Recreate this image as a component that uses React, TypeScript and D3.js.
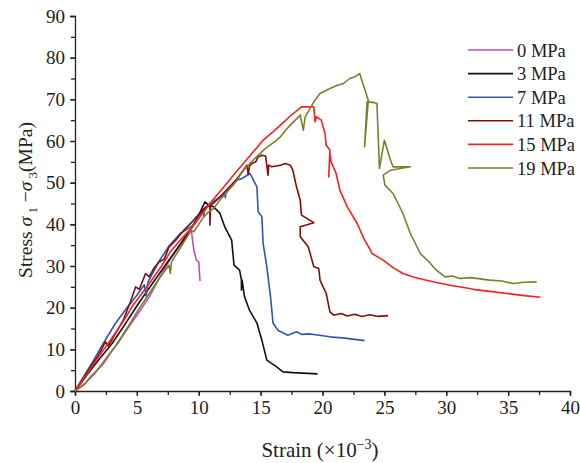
import { useEffect, useRef } from 'react';
import * as d3 from 'd3';

// strain (x10^-3) / deviatoric stress (MPa) pairs
const s0: [number, number][] = [
  [0, 0], [0.8, 1.8], [1.6, 4.2], [2.7, 8.6], [3.5, 11.6], [4.3, 15.2], [5.1, 18.6], [6, 22.6],
  [6.8, 27], [7.6, 31.2], [8.4, 34.6], [9.0, 37], [9.4, 38.4], [9.6, 34], [9.8, 31.4], [10.0, 31.0], [10.1, 26.4],
];
const s3: [number, number][] = [
  [0, 0], [0.5, 2], [1, 4], [2, 7.8], [3, 11.4], [4, 15.8], [5, 20.4], [5.5, 22.6], [6.5, 26.8], [7.5, 31],
  [8.5, 35.2], [9.3, 38.6], [10, 42.2], [10.5, 45.4], [10.8, 44.6], [11.2, 44.2], [11.7, 42.7], [12.1, 39.4],
  [12.66, 36.2], [12.85, 30.2], [13.3, 29], [13.45, 26.6], [13.45, 24.2], [13.5, 26.6], [13.7, 22.6],
  [14.1, 19.4], [14.7, 16.3], [15.1, 12.2], [15.5, 7.4], [16.3, 5.8], [16.8, 4.6], [17.6, 4.4], [18.4, 4.3], [19.6, 4.1],
];
const s7: [number, number][] = [
  [0, 0], [0.6, 3], [1.37, 6.7], [2.2, 11], [3.26, 16.2], [4.2, 20], [5, 23], [5.6, 25.5], [5.75, 22.8],
  [5.9, 26.2], [6.8, 31.2], [7.6, 34.8], [8.5, 37.8], [9.56, 39.8], [10.2, 42.8], [10.35, 43.6], [10.4, 41.8],
  [10.45, 43.8], [11, 45], [11.8, 46.8], [12.1, 47.4], [12.15, 46.4], [12.2, 47.6], [13.1, 50.6], [13.5, 51],
  [14.14, 52.2], [14.7, 49], [14.8, 43], [15.1, 41.8], [15.2, 35.5], [15.5, 29.8], [15.8, 22.6], [16, 16.3],
  [16.4, 14.6], [17.2, 13.4], [17.9, 14.2], [18.3, 13.6], [19, 13.7], [20.6, 13], [21.8, 12.7], [22.6, 12.4], [23.4, 12.1],
];
const s11: [number, number][] = [
  [0, 0], [0.6, 2.6], [1.3, 6], [1.9, 8.6], [2.45, 11.8], [2.7, 10.8], [3.2, 13.4], [3.9, 17], [4.5, 21.6],
  [4.9, 25], [5.2, 24.4], [5.7, 28.2], [6.0, 27.4], [6.4, 29.6], [6.8, 31], [7.2, 31.6], [7.6, 34.6], [8.2, 36.4],
  [8.8, 38.6], [9.4, 40.4], [10, 42.4], [10.6, 44.2], [10.9, 44.6], [10.9, 39.8], [10.95, 44.4], [11.6, 46.2],
  [12.3, 48.4], [13, 50.6], [13.6, 53], [13.9, 54.2], [14, 52], [14.1, 54], [14.3, 54.6], [14.6, 55], [14.8, 56.2],
  [15.1, 56.6], [15.4, 56.4], [15.6, 51.8], [15.65, 54.2], [15.9, 53.8], [16.6, 54.2], [17, 54.6], [17.4, 54.2],
  [17.6, 53], [17.9, 49], [18.2, 45.8], [18.3, 42.2], [19.3, 40.4], [18.2, 39.4], [18.2, 37], [18.85, 34.6],
  [19.3, 29.8], [19.7, 29.4], [19.8, 26.6], [20.3, 23.4], [20.6, 19], [20.9, 18.2], [21.5, 18.6], [22, 18],
  [22.6, 18.4], [23.2, 17.9], [23.8, 18.3], [24.5, 17.9], [25.3, 18.1],
];
const s15: [number, number][] = [
  [0, 0], [1, 4.3], [2, 8.6], [3, 12.8], [4, 17.2], [4.6, 20.2], [6, 25.8], [7, 30], [7.7, 33.4], [8.5, 36.2],
  [9.5, 39.4], [10.9, 45], [12, 48.9], [13, 52.5], [14, 56], [15.2, 60.2], [16, 62.2], [16.6, 63.8], [17.4, 66],
  [18.3, 68.2], [19.3, 68.2], [19.4, 64.6], [19.5, 65.8], [19.9, 65], [20.2, 61.8], [20.3, 59], [20.6, 57.8],
  [20.5, 51.4], [20.6, 57], [20.7, 55], [21.1, 52.2], [21.4, 48.2], [22, 44.2], [22.8, 40.2], [23.4, 36.2],
  [23.8, 34.2], [24, 33], [24.9, 31.4], [25.7, 29.6], [26.5, 28.2], [27.4, 27.3], [28.4, 26.6], [29.3, 26],
  [30.3, 25.4], [31.3, 24.9], [32.2, 24.4], [33.5, 23.9], [34.9, 23.4], [36.3, 22.9], [37.6, 22.5],
];
const s19: [number, number][] = [
  [0, 0], [0.4, 0.8], [0.83, 1.8], [1.3, 3.6], [1.8, 5], [2.3, 6.6], [2.8, 8.8], [3.4, 11.4], [4.2, 15],
  [5.1, 19.4], [6, 23.4], [6.8, 27], [7.6, 30.2], [7.7, 28.2], [7.8, 31], [8.6, 34.8], [9.4, 38.6], [9.6, 38.2],
  [10.4, 41.8], [10.8, 43], [11.2, 43.8], [11.7, 45.8], [12.4, 48.2], [13.1, 50.6], [13.5, 52.6], [14.4, 55.4],
  [15.3, 58], [16.3, 60.2], [16.6, 61], [17.2, 63.2], [17.8, 65], [18.2, 66.2], [18.45, 62.6], [18.6, 65.8],
  [19.3, 69.4], [19.8, 71.4], [20.6, 72.6], [21.2, 73.4], [21.7, 73.8], [22.2, 75], [22.6, 75.4], [23, 76.2],
  [23.7, 69.8], [23.4, 58.6], [23.6, 69.4], [24.2, 69.2], [24.4, 69], [24.6, 53.4], [25.0, 60.2], [25.5, 55.4],
  [25.7, 53.8], [27.1, 53.8], [25.5, 53], [24.9, 51.8], [25.05, 49.4], [25.7, 47.4], [26.5, 42.6], [27.1, 37.8],
  [27.9, 33], [28.6, 31], [29.2, 29], [29.9, 27.4], [30.5, 27.6], [31.1, 27], [32, 27.2], [33.5, 26.6],
  [34.5, 26.4], [35.4, 25.8], [36.3, 26.1], [37.3, 26.2],
];

const seriesNames = ['0 MPa', '3 MPa', '7 MPa', '11 MPa', '15 MPa', '19 MPa'];
const seriesData = [s0, s3, s7, s11, s15, s19];
const seriesColors = ['#C04CC0', '#111111', '#2E56B4', '#840C0C', '#FF1E1E', '#7E7E2C'];

const xTicks = [0, 5, 10, 15, 20, 25, 30, 35, 40];
const yTicks = [0, 10, 20, 30, 40, 50, 60, 70, 80, 90];

export default function App() {
  const ref = useRef<SVGSVGElement>(null);

  useEffect(() => {
    const svg = d3.select(ref.current);
    svg.selectAll('*').remove();

    const W = 580, H = 463;
    const m = { l: 75, r: 10, t: 16, b: 72 };
    const font = '"Liberation Serif", "Times New Roman", serif';

    const x = d3.scaleLinear().domain([0, 40]).range([m.l, W - m.r]);
    const y = d3.scaleLinear().domain([0, 90]).range([H - m.b, m.t]);

    // ── 축 (보조 눈금 + 주 눈금) ──
    const xMinor = svg.append('g').attr('transform', `translate(0,${y(0)})`);
    xMinor.call(d3.axisBottom(x).tickValues(d3.range(0, 40.01, 2.5)).tickSize(4).tickFormat(() => ''));
    xMinor.call(g => g.select('.domain').remove());
    xMinor.selectAll('line').attr('stroke', '#222').attr('stroke-width', 1.3);
    const xLab = svg.append('g').attr('transform', `translate(0,${y(0)})`);
    xLab.call(d3.axisBottom(x).tickValues(xTicks).tickSize(5).tickPadding(5).tickFormat(d3.format('d')));
    xLab.selectAll('text').attr('font-size', 19).attr('font-family', font).attr('fill', '#222');
    xLab.selectAll('line, path').attr('stroke', '#222').attr('stroke-width', 1.3);

    const yMinor = svg.append('g').attr('transform', `translate(${x(0)},0)`);
    yMinor.call(d3.axisLeft(y).tickValues(d3.range(0, 90.01, 5)).tickSize(4).tickFormat(() => ''));
    yMinor.call(g => g.select('.domain').remove());
    yMinor.selectAll('line').attr('stroke', '#222').attr('stroke-width', 1.3);
    const yLab = svg.append('g').attr('transform', `translate(${x(0)},0)`);
    yLab.call(d3.axisLeft(y).tickValues(yTicks).tickSize(5).tickPadding(5).tickFormat(d3.format('d')));
    yLab.selectAll('text').attr('font-size', 19).attr('font-family', font).attr('fill', '#222');
    yLab.selectAll('line, path').attr('stroke', '#222').attr('stroke-width', 1.3);

    // ── 곡선 ──
    const line = d3.line<[number, number]>().x(d => x(d[0])).y(d => y(d[1]));
    seriesData.forEach((data, i) => {
      svg.append('path')
        .attr('d', line(data))
        .attr('fill', 'none')
        .attr('stroke', seriesColors[i])
        .attr('stroke-width', 1.6)
        .attr('stroke-linejoin', 'round');
    });

    // ── 범례 ──
    const lg = svg.append('g').attr('transform', 'translate(468,50)');
    seriesNames.forEach((name, i) => {
      const row = lg.append('g').attr('transform', `translate(0,${i * 23.6})`);
      row.append('line').attr('x1', 0).attr('x2', 45).attr('stroke', seriesColors[i]).attr('stroke-width', 1.6);
      row.append('text').attr('x', 49).attr('y', 6.5).attr('font-size', 18.5)
        .attr('font-family', font).attr('fill', '#222').text(name);
    });

    // ── 축 제목 ──
    const xt = svg.append('text').attr('x', 320).attr('y', 457).attr('text-anchor', 'middle')
      .attr('font-size', 21).attr('font-family', font).attr('fill', '#222');
    xt.append('tspan').text('Strain (×10');
    xt.append('tspan').attr('dy', -8).attr('font-size', 14).text('−3');
    xt.append('tspan').attr('dy', 8).text(')');

    const yt = svg.append('text').attr('transform', 'translate(32,200) rotate(-90)')
      .attr('text-anchor', 'middle').attr('font-size', 19.5).attr('font-family', font).attr('fill', '#222');
    yt.append('tspan').text('Stress ');
    yt.append('tspan').attr('font-style', 'italic').text('σ');
    yt.append('tspan').attr('dy', 5).attr('font-size', 13).text(' 1');
    yt.append('tspan').attr('dy', -5).text(' −');
    yt.append('tspan').attr('font-style', 'italic').text('σ');
    yt.append('tspan').attr('dy', 5).attr('font-size', 13).text(' 3');
    yt.append('tspan').attr('dy', -5).text('(MPa)');
  }, []);

  return <svg ref={ref} width={580} height={463} style={{ position: 'absolute', left: 0, top: 0, background: '#fff' }} />;
}
